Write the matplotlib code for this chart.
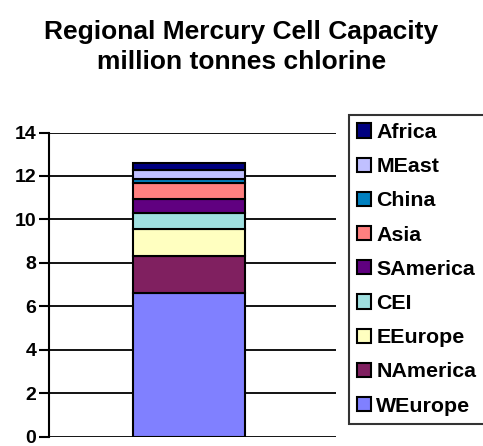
import matplotlib
matplotlib.use("Agg")
import matplotlib.pyplot as plt

plt.rcParams['font.family'] = ['Liberation Sans', 'DejaVu Sans']
plt.rcParams['font.weight'] = 'bold'

# Stack order, bottom to top
regions = ["WEurope", "NAmerica", "EEurope", "CEI", "SAmerica",
           "Asia", "China", "MEast", "Africa"]
capacity = [6.60, 1.72, 1.24, 0.73, 0.66, 0.72, 0.20, 0.41, 0.33]
colors = ["#8080FF", "#802060", "#FFFFC0", "#A0E0E0", "#600080",
          "#FF8080", "#0080C0", "#C0C0FF", "#000080"]
yticks = [0, 2, 4, 6, 8, 10, 12, 14]

fig = plt.figure(figsize=(4.83, 4.46), dpi=100)
ax = fig.add_axes([49 / 483, 9.5 / 446, 287 / 483, 304 / 446])

bottom = 0.0
handles = []
for name, val, col in zip(regions, capacity, colors):
    h = ax.bar(0, val, width=0.39, bottom=bottom, color=col,
               edgecolor="black", linewidth=1.5, label=name, zorder=3)
    handles.append(h)
    bottom += val

ax.set_xlim(-0.488, 0.512)
ax.set_ylim(0, 14)
ax.set_yticks(yticks)
ax.set_yticklabels([str(t) for t in yticks], fontsize=14, fontweight="bold")
ax.set_xticks([])
ax.yaxis.grid(True, color="black", linewidth=1.3, zorder=0)
for s in ["top", "right", "bottom"]:
    ax.spines[s].set_visible(False)
ax.spines["left"].set_linewidth(1.5)
ax.tick_params(axis="y", direction="out", length=7, width=1.5, pad=2)

fig.text(0.5, 1 - 39 / 446, "Regional Mercury Cell Capacity", ha="center",
         va="baseline", fontsize=19, fontweight="bold")
fig.text(0.5, 1 - 69 / 446, "million tonnes chlorine", ha="center",
         va="baseline", fontsize=19, fontweight="bold")

leg = fig.legend(handles[::-1], regions[::-1], loc="upper left",
                 bbox_to_anchor=(349 / 483, 1 - 115 / 446),
                 fontsize=15.4, frameon=True, fancybox=False, shadow=False,
                 handlelength=0.65, handleheight=0.65, handletextpad=0.25,
                 labelspacing=0.71, borderpad=0.38, borderaxespad=0)
leg.get_frame().set_edgecolor("black")
leg.get_frame().set_linewidth(1.5)
for t in leg.get_texts():
    t.set_fontweight("bold")

fig.savefig("out.png", dpi=100)
